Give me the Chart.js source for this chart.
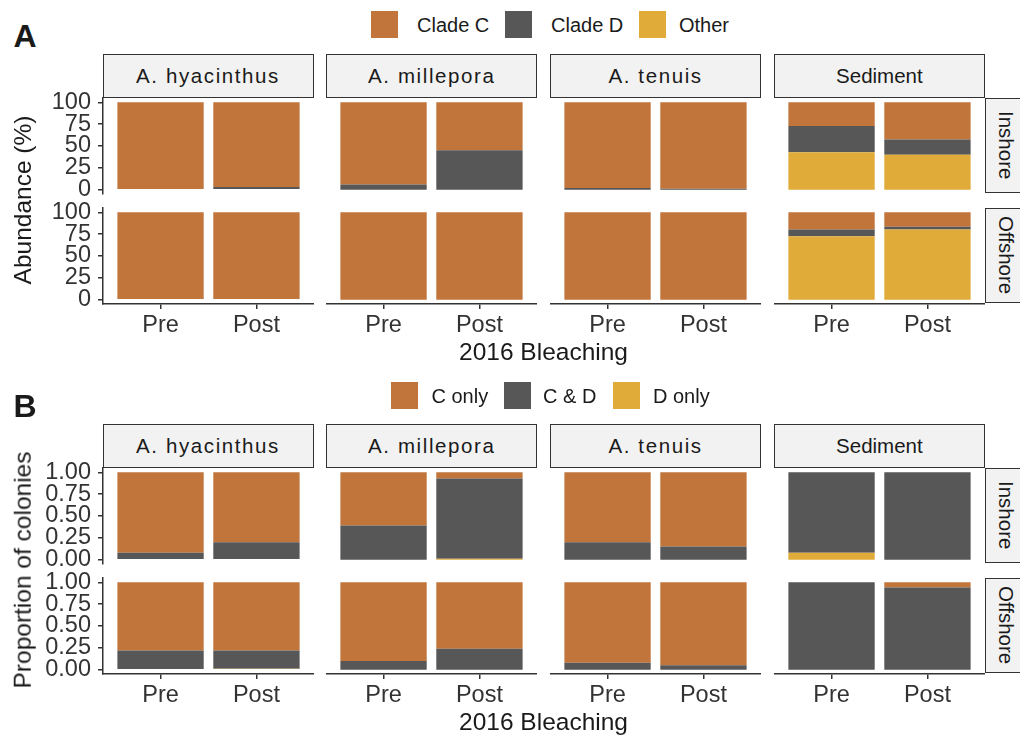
<!DOCTYPE html>
<html lang="en">
<head>
<meta charset="UTF-8" />
<title>Symbiont clades before and after the 2016 bleaching</title>
<script src="https://cdn.jsdelivr.net/npm/chart.js"></script>
<style>
  html, body { margin: 0; padding: 0; background: #fff; }
  #fig { position: relative; width: 1020px; height: 738px; overflow: hidden; background: #fff;
         font-family: "Liberation Sans", Arial, sans-serif; color: #1a1a1a; }
  #fig canvas { position: absolute; }
  .txt { position: absolute; white-space: nowrap; line-height: 1; }
  .strip { position: absolute; box-sizing: border-box; border: 1.5px solid #333; background: #f2f2f2;
           display: flex; align-items: center; justify-content: center; font-size: 20.5px; color: #1a1a1a; }
  .strip.species { letter-spacing: 1.6px; }
  .strip.side { writing-mode: vertical-rl; padding-left: 4px; }
  .key { position: absolute; width: 27px; height: 27px; }
</style>
</head>
<body>
<div id="fig"></div>
<script>
const facets = ['A. hyacinthus', 'A. millepora', 'A. tenuis', 'Sediment'];
const sites = ['Inshore', 'Offshore'];
const periods = ['Pre', 'Post'];

// each row: one facet, values in order Inshore Pre, Inshore Post, Offshore Pre, Offshore Post
// (A) relative abundance, %
const cladeC     = [[100, 97, 100, 99.2], [94, 55, 100, 100], [98, 99, 100, 100], [27, 42.5, 19.7, 16.5]];
const cladeD     = [[0, 3, 0, 0.8], [6, 45, 0, 0], [2, 1, 0, 0], [30.3, 17.5, 7.6, 3]];
const cladeOther = [[0, 0, 0, 0], [0, 0, 0, 0], [0, 0, 0, 0], [42.7, 40, 72.7, 80.5]];

// (B) proportion of colonies
const cOnly = [[0.92, 0.80, 0.78, 0.78], [0.61, 0.07, 0.90, 0.76], [0.80, 0.85, 0.92, 0.95], [0, 0, 0, 0.06]];
const cAndD = [[0.08, 0.20, 0.22, 0.21], [0.39, 0.92, 0.10, 0.24], [0.20, 0.15, 0.08, 0.05], [0.92, 1.00, 1.00, 0.94]];
const dOnly = [[0, 0, 0, 0.01], [0, 0.01, 0, 0], [0, 0, 0, 0], [0.08, 0, 0, 0]];

const abundanceTicks = [0, 25, 50, 75, 100];
const proportionTicks = [0, 0.25, 0.5, 0.75, 1];

const ORANGE = '#c1753b', GREY = '#575757', GOLD = '#e1ab3a';
const AXIS = '#333', TICK = '#333';
const FONT = '"Liberation Sans", Arial, sans-serif';

// facet grid geometry (px)
const COL_LEFT = 102.5, COL_STEP = 223.8, COL_W = 211;
const STRIP_TOP = 54, STRIP_H = 43.5;
const ROW_TOP = [97.5, 207.5], ROW_H = 95.5;
const Y_AXIS_W = 80, X_AXIS_H = 42, PAD = 14;

const panels = [
  {
    tag: 'A', dy: 0, yTitle: 'Abundance (%)', ticks: abundanceTicks, top: 100,
    fmt: v => String(v),
    // bottom to top
    series: [
      { label: 'Other', values: cladeOther, color: GOLD },
      { label: 'Clade D', values: cladeD, color: GREY },
      { label: 'Clade C', values: cladeC, color: ORANGE }
    ],
    keys: [
      { label: 'Clade C', color: ORANGE, x: 371, tx: 417 },
      { label: 'Clade D', color: GREY, x: 505, tx: 551 },
      { label: 'Other', color: GOLD, x: 638.5, tx: 679 }
    ],
    keyY: 11
  },
  {
    tag: 'B', dy: 370, yTitle: 'Proportion of colonies', ticks: proportionTicks, top: 1,
    fmt: v => v.toFixed(2),
    series: [
      { label: 'D only', values: dOnly, color: GOLD },
      { label: 'C & D', values: cAndD, color: GREY },
      { label: 'C only', values: cOnly, color: ORANGE }
    ],
    keys: [
      { label: 'C only', color: ORANGE, x: 391, tx: 431.5 },
      { label: 'C & D', color: GREY, x: 503.5, tx: 543 },
      { label: 'D only', color: GOLD, x: 612.5, tx: 653 }
    ],
    keyY: 381.5
  }
];

const fig = document.getElementById('fig');

function addText(text, x, y, css, rotate) {
  const d = document.createElement('div');
  d.className = 'txt';
  d.textContent = text;
  Object.assign(d.style, css);
  d.style.left = x + 'px';
  d.style.top = y + 'px';
  d.style.transform = 'translate(-50%, -50%)' + (rotate ? ' rotate(' + rotate + 'deg)' : '');
  fig.appendChild(d);
  return d;
}

function addBox(cls, text, x, y, w, h) {
  const d = document.createElement('div');
  d.className = cls;
  d.textContent = text;
  d.style.left = x + 'px';
  d.style.top = y + 'px';
  d.style.width = w + 'px';
  d.style.height = h + 'px';
  fig.appendChild(d);
  return d;
}

function facetChart(panel, fi, ri) {
  const first = fi === 0, bottom = ri === 1;
  const colLeft = COL_LEFT + fi * COL_STEP;
  const w = Math.round(COL_W + (first ? Y_AXIS_W : 0));
  const h = Math.round(ROW_H + PAD + (bottom ? X_AXIS_H : PAD));
  const canvas = document.createElement('canvas');
  canvas.width = w;
  canvas.height = h;
  canvas.style.width = w + 'px';
  canvas.style.height = h + 'px';
  canvas.style.left = (first ? colLeft - Y_AXIS_W : colLeft) + 'px';
  canvas.style.top = (panel.dy + ROW_TOP[ri] - PAD) + 'px';
  fig.appendChild(canvas);

  const datasets = panel.series.map(s => ({
    label: s.label,
    data: periods.map((p, pi) => ({ x: pi + 1, y: s.values[fi][ri * 2 + pi] })),
    backgroundColor: s.color,
    borderWidth: 0,
    categoryPercentage: 1,
    barPercentage: 0.9
  }));

  const axisGrid = { offset: false, drawOnChartArea: false, drawTicks: true, tickLength: 5, color: AXIS, lineWidth: 1.5 };
  const axisBorder = { display: true, color: AXIS, width: 1.5 };

  return new Chart(canvas, {
    type: 'bar',
    data: { datasets },
    options: {
      responsive: false,
      animation: false,
      devicePixelRatio: 1,
      layout: { padding: { top: PAD, bottom: bottom ? 0 : PAD, left: 0, right: 0 } },
      plugins: { legend: { display: false }, tooltip: { enabled: false } },
      scales: {
        x: {
          type: 'linear', min: 0.4, max: 2.6, stacked: true, offset: false,
          display: bottom,
          afterBuildTicks: s => { s.ticks = periods.map((p, i) => ({ value: i + 1 })); },
          afterFit: s => { if (bottom) s.height = X_AXIS_H; s.paddingLeft = 0; s.paddingRight = 0; },
          grid: axisGrid,
          border: axisBorder,
          ticks: {
            autoSkip: false, maxRotation: 0, padding: 2, color: TICK,
            font: { family: FONT, size: 23.5 },
            callback: v => periods[v - 1]
          }
        },
        y: {
          type: 'linear', stacked: true, min: -0.05 * panel.top, max: 1.05 * panel.top,
          display: first,
          afterBuildTicks: s => { s.ticks = panel.ticks.map(v => ({ value: v })); },
          afterFit: s => { if (first) s.width = Y_AXIS_W; s.paddingTop = 0; s.paddingBottom = 0; },
          grid: axisGrid,
          border: axisBorder,
          ticks: {
            autoSkip: false, padding: 7, color: TICK,
            font: { family: FONT, size: 23.5 },
            callback: v => panel.fmt(v)
          }
        }
      }
    }
  });
}

panels.forEach(panel => {
  const dy = panel.dy;

  // panel tag
  addText(panel.tag, 25, dy + 36, { fontSize: '32px', fontWeight: 'bold', color: '#1a1a1a' });

  // legend
  panel.keys.forEach(k => {
    const box = document.createElement('div');
    box.className = 'key';
    box.style.left = k.x + 'px';
    box.style.top = panel.keyY + 'px';
    box.style.background = k.color;
    fig.appendChild(box);
    const t = addText(k.label, k.tx, panel.keyY + 14, { fontSize: '20px', color: '#1a1a1a' });
    t.style.transform = 'translate(0, -50%)';
  });

  // column strips
  facets.forEach((f, fi) => {
    addBox('strip' + (fi < 3 ? ' species' : ''), f,
      COL_LEFT + fi * COL_STEP, dy + STRIP_TOP, COL_W, STRIP_H);
  });

  // row strips
  sites.forEach((site, ri) => {
    addBox('strip side', site, COL_LEFT + 3 * COL_STEP + COL_W, dy + ROW_TOP[ri], 38, ROW_H);
  });

  // facets
  facets.forEach((f, fi) => sites.forEach((site, ri) => facetChart(panel, fi, ri)));

  // axis titles
  const plotMid = (ROW_TOP[0] + ROW_TOP[1] + ROW_H) / 2;
  addText(panel.yTitle, 23, dy + plotMid, { fontSize: '24.5px', color: '#1a1a1a' }, -90);
  addText('2016 Bleaching', 543.5, dy + 352, { fontSize: '24.5px', color: '#1a1a1a' });
});
</script>
</body>
</html>
